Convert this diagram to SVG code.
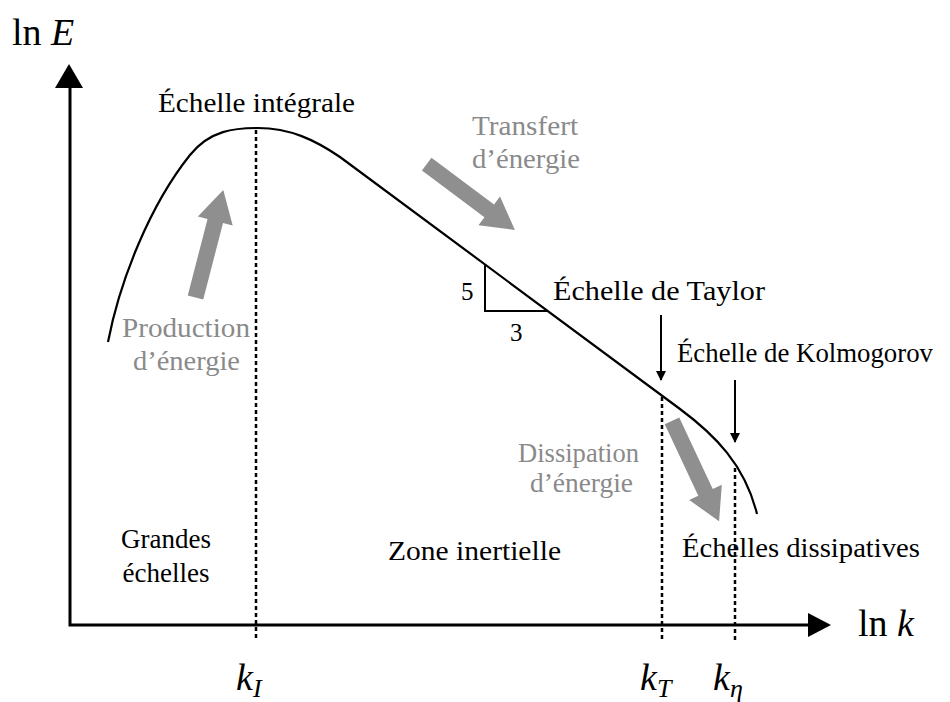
<svg xmlns="http://www.w3.org/2000/svg" width="950" height="702" viewBox="0 0 950 702" font-family="Liberation Serif, DejaVu Serif, serif">
<style>
text{font-family:'Liberation Serif','DejaVu Serif','Noto Serif',serif}
.t{font-size:27px;fill:#000}
.g{fill:#8a8a8a}
.m{font-size:38px;fill:#000}
.mi{font-style:italic}
.ax{stroke:#000;stroke-width:3;fill:none}
.dot{stroke:#000;stroke-width:2.5;stroke-dasharray:4 3;fill:none}
.curve{stroke:#000;stroke-width:2.2;fill:none}
.thin{stroke:#000;stroke-width:2;fill:none}
.big{fill:#8f8f8f}
</style>
<defs>
<marker id="ah" markerWidth="10" markerHeight="10" refX="9" refY="5" orient="auto" markerUnits="userSpaceOnUse">
<path d="M0,0 L10,5 L0,10 Z" fill="#000"/>
</marker>
</defs>
<rect width="950" height="702" fill="#fff"/>

<g id="axes">
<path class="ax" d="M70,87 V625 H810"/>
<polygon points="69,64 55,88 83,88" fill="#000"/>
<polygon points="831,625 808,613 808,637" fill="#000"/>
<text class="m" x="12" y="45" font-family="Liberation Serif, serif">ln <tspan class="mi">E</tspan></text>
<text class="m" x="858" y="636" font-family="Liberation Serif, serif">ln <tspan class="mi">k</tspan></text>
</g>

<g id="connectors">
<path class="dot" d="M256,130 V640"/>
<path class="dot" d="M662,397 V640"/>
<path class="dot" d="M735,468 V640"/>
<path class="thin" d="M661,315 V380" marker-end="url(#ah)"/>
<path class="thin" d="M735,380 V442" marker-end="url(#ah)"/>
</g>

<g id="spectrum">
<path class="curve" d="M108,342 C120,280 150,205 190,155 C210,130 235,128 258,128 C290,128 315,140 340,157 L680,409 C715,435 745,465 757,514"/>
<path class="thin" d="M485,265 V311 H547"/>
<text class="t" x="461" y="300" style="font-size:25px">5</text>
<text class="t" x="510" y="341" style="font-size:25px">3</text>
</g>

<g id="arrow-production">
<path class="big" d="M0,-8 L79,-8 L79,-18 L111,0 L79,18 L79,8 L0,8 Z" transform="translate(195.5,297.5) rotate(-75.5)"/>
<text class="t g" x="122" y="337" textLength="128" lengthAdjust="spacingAndGlyphs">Production</text>
<text class="t g" x="133" y="370" textLength="107" lengthAdjust="spacingAndGlyphs">d’énergie</text>
</g>

<g id="arrow-transfert">
<path class="big" d="M0,-8 L78,-8 L78,-18 L110,0 L78,18 L78,8 L0,8 Z" transform="translate(426.7,164.2) rotate(36.7)"/>
<text class="t g" x="472" y="135" textLength="106" lengthAdjust="spacingAndGlyphs">Transfert</text>
<text class="t g" x="472" y="168" textLength="108" lengthAdjust="spacingAndGlyphs">d’énergie</text>
</g>

<g id="arrow-dissipation">
<path class="big" d="M0,-8 L79,-8 L79,-18 L111,0 L79,18 L79,8 L0,8 Z" transform="translate(672,420.8) rotate(64.9)"/>
<text class="t g" x="518" y="462" textLength="121" lengthAdjust="spacingAndGlyphs">Dissipation</text>
<text class="t g" x="530" y="492" textLength="103" lengthAdjust="spacingAndGlyphs">d’énergie</text>
</g>

<g id="label-integrale">
<text class="t" x="158" y="112" textLength="197" lengthAdjust="spacingAndGlyphs">Échelle intégrale</text>
</g>
<g id="label-taylor">
<text class="t" x="553" y="300" textLength="212" lengthAdjust="spacingAndGlyphs">Échelle de Taylor</text>
</g>
<g id="label-kolmogorov">
<text class="t" x="677" y="362" textLength="256" lengthAdjust="spacingAndGlyphs">Échelle de Kolmogorov</text>
</g>
<g id="label-dissipatives">
<text class="t" x="682" y="557" textLength="238" lengthAdjust="spacingAndGlyphs">Échelles dissipatives</text>
</g>
<g id="label-grandes">
<text class="t" x="166" y="548" text-anchor="middle">Grandes</text>
<text class="t" x="166" y="582" text-anchor="middle">échelles</text>
</g>
<g id="label-inertielle">
<text class="t" x="388" y="560" textLength="173" lengthAdjust="spacingAndGlyphs">Zone inertielle</text>
</g>

<g id="ticks">
<text class="m mi" x="236" y="690">k<tspan font-size="26" dy="7">I</tspan></text>
<text class="m mi" x="640" y="690">k<tspan font-size="26" dy="7">T</tspan></text>
<text class="m mi" x="713" y="690">k<tspan font-size="26" dy="7">η</tspan></text>
</g>
</svg>
